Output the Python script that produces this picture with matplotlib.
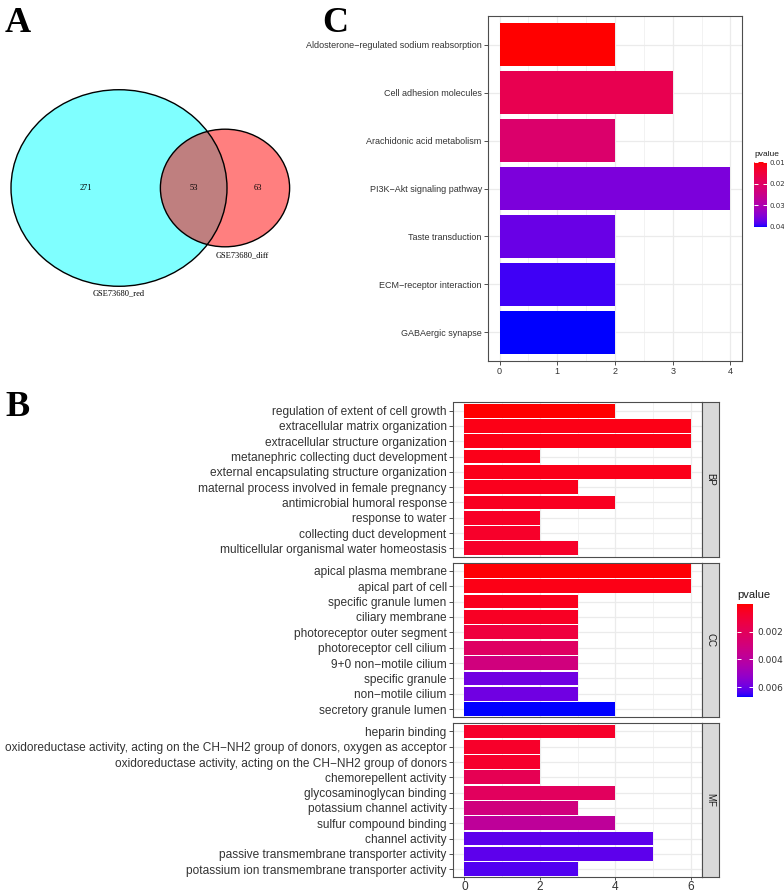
import numpy as np
import matplotlib
matplotlib.use("Agg")
import matplotlib.pyplot as plt
from matplotlib.patches import Ellipse
from matplotlib.colors import ListedColormap, Normalize

W, H = 784, 892
SANS = ["Liberation Sans", "DejaVu Sans"]
SERIF = ["Liberation Serif", "DejaVu Serif"]

# === Panel A: Venn counts ===
venn_names = ["GSE73680_red", "GSE73680_diff"]
venn_only_red = 271
venn_both = 53
venn_only_diff = 63

# === Panel C: KEGG enrichment ===
kegg_terms = [
    "Aldosterone\u2212regulated sodium reabsorption",
    "Cell adhesion molecules",
    "Arachidonic acid metabolism",
    "PI3K\u2212Akt signaling pathway",
    "Taste transduction",
    "ECM\u2212receptor interaction",
    "GABAergic synapse",
]
kegg_count = [2, 3, 2, 4, 2, 2, 2]
kegg_pvalue = [0.0098, 0.0174, 0.0210, 0.0355, 0.0370, 0.0390, 0.0401]

# === Panel B: GO enrichment ===
bp_terms = [
    "regulation of extent of cell growth",
    "extracellular matrix organization",
    "extracellular structure organization",
    "metanephric collecting duct development",
    "external encapsulating structure organization",
    "maternal process involved in female pregnancy",
    "antimicrobial humoral response",
    "response to water",
    "collecting duct development",
    "multicellular organismal water homeostasis",
]
bp_count = [4, 6, 6, 2, 6, 3, 4, 2, 2, 3]
bp_pvalue = [0.00002, 0.00029, 0.00029, 0.00035, 0.00035, 0.00042, 0.00049, 0.00062, 0.00069, 0.00069]

cc_terms = [
    "apical plasma membrane",
    "apical part of cell",
    "specific granule lumen",
    "ciliary membrane",
    "photoreceptor outer segment",
    "photoreceptor cell cilium",
    "9+0 non\u2212motile cilium",
    "specific granule",
    "non\u2212motile cilium",
    "secretory granule lumen",
]
cc_count = [6, 6, 3, 3, 3, 3, 3, 3, 3, 4]
cc_pvalue = [0.00009, 0.00029, 0.00042, 0.00055, 0.00122, 0.00222, 0.00303, 0.00590, 0.00590, 0.00670]

mf_terms = [
    "heparin binding",
    "oxidoreductase activity, acting on the CH\u2212NH2 group of donors, oxygen as acceptor",
    "oxidoreductase activity, acting on the CH\u2212NH2 group of donors",
    "chemorepellent activity",
    "glycosaminoglycan binding",
    "potassium channel activity",
    "sulfur compound binding",
    "channel activity",
    "passive transmembrane transporter activity",
    "potassium ion transmembrane transporter activity",
]
mf_count = [4, 2, 2, 2, 4, 3, 4, 5, 5, 3]
mf_pvalue = [0.00069, 0.00069, 0.00075, 0.00182, 0.00209, 0.00303, 0.00383, 0.00617, 0.00617, 0.00630]

go_groups = [("BP", bp_terms, bp_count, bp_pvalue),
             ("CC", cc_terms, cc_count, cc_pvalue),
             ("MF", mf_terms, mf_count, mf_pvalue)]


# === red -> blue gradient interpolated in Lab (like ggplot) ===
WHITE = np.array([0.95047, 1.0, 1.08883])
M = np.array([[0.4124, 0.3576, 0.1805], [0.2126, 0.7152, 0.0722], [0.0193, 0.1192, 0.9505]])


def srgb_to_lab(rgb):
    rgb = np.asarray(rgb, float)
    lin = np.where(rgb <= 0.04045, rgb / 12.92, ((rgb + 0.055) / 1.055) ** 2.4)
    xyz = M @ lin / WHITE
    d = 6 / 29
    f = np.where(xyz > d ** 3, np.cbrt(xyz), xyz / (3 * d * d) + 4 / 29)
    return np.array([116 * f[1] - 16, 500 * (f[0] - f[1]), 200 * (f[1] - f[2])])


def lab_to_srgb(lab):
    L, a, b = lab[:, 0], lab[:, 1], lab[:, 2]
    fy = (L + 16) / 116
    f = np.stack([fy + a / 500, fy, fy - b / 200], axis=1)
    d = 6 / 29
    xyz = np.where(f > d, f ** 3, 3 * d * d * (f - 4 / 29)) * WHITE
    lin = np.clip(xyz @ np.linalg.inv(M).T, 0, 1)
    return np.where(lin <= 0.0031308, 12.92 * lin, 1.055 * lin ** (1 / 2.4) - 0.055)


def lab_cmap(c0, c1, n=256):
    t = np.linspace(0, 1, n)[:, None]
    lab = srgb_to_lab(c0)[None, :] * (1 - t) + srgb_to_lab(c1)[None, :] * t
    return ListedColormap(np.clip(lab_to_srgb(lab), 0, 1))


CMAP = lab_cmap([1, 0, 0], [0, 0, 1])


def box(x0, y0, x1, y1):
    return [x0 / W, 1 - y1 / H, (x1 - x0) / W, (y1 - y0) / H]


def style_axes(ax, label_size):
    for s in ax.spines.values():
        s.set_color("#4D4D4D")
        s.set_linewidth(0.8)
    ax.set_axisbelow(True)
    ax.grid(which="major", color="#EBEBEB", lw=0.9)
    ax.grid(which="minor", axis="x", color="#EBEBEB", lw=0.45)
    ax.tick_params(which="major", length=3, width=0.6, color="#333333",
                   labelsize=label_size, labelcolor="#333333", pad=1.5)
    ax.tick_params(which="minor", length=0)


def draw_colorbar(fig, bx, vmin, vmax, ticks, labels, fs, title_fs, pad=3):
    ax = fig.add_axes(box(*bx))
    grad = np.linspace(vmin, vmax, 256).reshape(-1, 1)
    ax.imshow(grad, aspect="auto", cmap=CMAP, norm=Normalize(vmin, vmax),
              extent=[0, 1, vmax, vmin], origin="upper")
    ax.set_xlim(0, 1)
    ax.set_ylim(vmax, vmin)
    ax.set_xticks([])
    ax.set_yticks(ticks)
    ax.set_yticklabels(labels)
    ax.tick_params(axis="y", left=True, right=True, labelleft=False, labelright=True,
                   direction="in", color="white", length=3, width=0.7,
                   labelsize=fs, labelcolor="#333333", pad=pad)
    for s in ax.spines.values():
        s.set_visible(False)
    fig.text(bx[0] / W, 1 - (bx[1] - 4) / H, "pvalue", fontsize=title_fs,
             family=SANS, color="#1A1A1A", ha="left", va="bottom")


fig = plt.figure(figsize=(W / 100, H / 100), dpi=100)

# === Panel A: Venn diagram ===
ax_a = fig.add_axes(box(0, 0, 300, 380))
ax_a.set_xlim(0, 300)
ax_a.set_ylim(380, 0)
ax_a.axis("off")
k = 6.0  # pixels per sqrt(count), area-proportional circles
n_red = venn_only_red + venn_both
n_diff = venn_only_diff + venn_both
w_red, w_diff = 2 * k * np.sqrt(n_red), 2 * k * np.sqrt(n_diff)
cy = 188
cx_red, cx_diff = 119, 225
for cx, w, col in [(cx_red, w_red, (0, 1, 1, 0.5)), (cx_diff, w_diff, (1, 0, 0, 0.5))]:
    ax_a.add_patch(Ellipse((cx, cy), w, w * 0.91, facecolor=col, edgecolor="none"))
for cx, w in [(cx_red, w_red), (cx_diff, w_diff)]:
    ax_a.add_patch(Ellipse((cx, cy), w, w * 0.91, facecolor="none", edgecolor="black", lw=1.0))
for x, v in [(86, venn_only_red), (194, venn_both), (258, venn_only_diff)]:
    ax_a.text(x, cy, str(v), fontsize=6, family=SERIF, ha="center", va="center")
ax_a.text(cx_red, 293, venn_names[0], fontsize=6, family=SERIF, ha="center", va="center")
ax_a.text(242, 255, venn_names[1], fontsize=6, family=SERIF, ha="center", va="center")

# === Panel C: KEGG barplot ===
ax_c = fig.add_axes(box(488, 16, 742, 361))
norm_c = Normalize(min(kegg_pvalue), max(kegg_pvalue))
yc = np.arange(len(kegg_terms))
ax_c.barh(yc, kegg_count, height=0.9, color=CMAP(norm_c(kegg_pvalue)), zorder=3)
ax_c.set_ylim(len(kegg_terms) - 0.4, -0.6)
ax_c.set_xlim(-0.2, 4.2)
ax_c.set_yticks(yc)
ax_c.set_yticklabels(kegg_terms, family=SANS)
ax_c.set_xticks([0, 1, 2, 3, 4])
ax_c.set_xticks([0.5, 1.5, 2.5, 3.5], minor=True)
style_axes(ax_c, 6.5)
for lab in ax_c.get_xticklabels():
    lab.set_family(SANS)
draw_colorbar(fig, (754, 162, 767, 227), min(kegg_pvalue), max(kegg_pvalue),
              [0.01, 0.02, 0.03, 0.04], ["0.01", "0.02", "0.03", "0.04"], 5, 6, pad=1.5)

# === Panel B: GO barplot, faceted by ontology ===
all_p = bp_pvalue + cc_pvalue + mf_pvalue
norm_b = Normalize(min(all_p), max(all_p))
panel_rows = [(402.5, 556.5), (562.7, 717.3), (723.3, 877.3)]
for (name, terms, counts, pvals), (top, bot) in zip(go_groups, panel_rows):
    ax = fig.add_axes(box(453, top, 702, bot))
    y = np.arange(len(terms))
    ax.barh(y, counts, height=0.9, color=CMAP(norm_b(pvals)), zorder=3)
    ax.set_ylim(len(terms) - 0.47, -0.53)
    ax.set_xlim(-0.3, 6.3)
    ax.set_yticks(y)
    ax.set_yticklabels(terms, family=SANS)
    ax.set_xticks([0, 2, 4, 6])
    ax.set_xticks([1, 3, 5], minor=True)
    style_axes(ax, 8.6)
    if name != "MF":
        ax.tick_params(axis="x", which="both", bottom=False, labelbottom=False)
    else:
        ax.tick_params(axis="x", length=2.5, pad=0.5)
        for lab in ax.get_xticklabels():
            lab.set_family(SANS)
    # facet strip
    st = fig.add_axes(box(702, top, 719, bot))
    st.set_facecolor("#D9D9D9")
    st.set_xticks([])
    st.set_yticks([])
    for s in st.spines.values():
        s.set_color("#4D4D4D")
        s.set_linewidth(0.8)
    st.text(0.5, 0.5, name, rotation=-90, ha="center", va="center", fontsize=7,
            family=SANS, color="#1A1A1A", transform=st.transAxes)

draw_colorbar(fig, (737, 604, 753, 697), min(all_p), max(all_p),
              [0.002, 0.004, 0.006], ["0.002", "0.004", "0.006"], 6.5, 8)

# === Panel letters ===
for letter, x, yb in [("A", 5, 32), ("C", 322, 32), ("B", 5, 416)]:
    fig.text(x / W, 1 - yb / H, letter, fontsize=26, weight="bold", family=SERIF,
             ha="left", va="baseline")

fig.savefig("out.png", dpi=100)
